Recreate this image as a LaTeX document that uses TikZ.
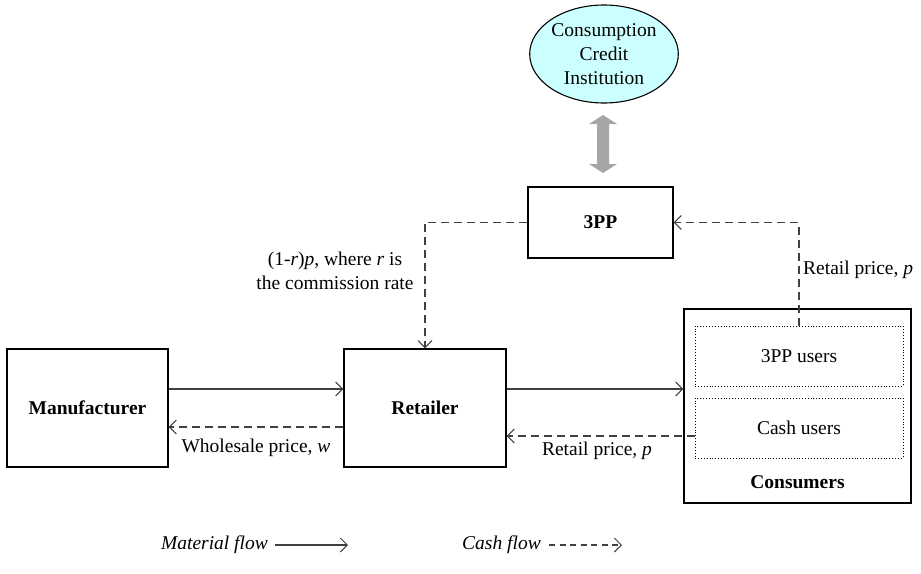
\documentclass[tikz,border=0pt]{standalone}
\usepackage{fontspec}
\setmainfont{Liberation Serif}
\usetikzlibrary{arrows.meta,shapes.geometric,calc}
\definecolor{linegray}{HTML}{404040}
\definecolor{ellfill}{HTML}{CCFFFF}
\definecolor{dblgray}{HTML}{A6A6A6}
\tikzset{
  box/.style={draw=black,line width=1.2pt,rectangle,inner sep=0pt,align=center,font=\fontsize{19.5}{23}\selectfont\bfseries},
  subbox/.style={draw=black,line width=0.9pt,dotted,rectangle,inner sep=0pt,align=center,font=\fontsize{19.5}{23}\selectfont},
  txt/.style={inner sep=0pt,align=center,font=\fontsize{19.5}{24}\selectfont},
  mat/.style={draw=linegray,line width=1.3pt,-{Straight Barb[length=7pt,width=14pt,line width=1pt]}},
  cash/.style={draw=linegray,line width=1.3pt,dash pattern=on 8pt off 5pt,-{Straight Barb[length=7pt,width=14pt,line width=1pt]}},
}
\begin{document}
\begin{tikzpicture}[x=1pt,y=-1pt]
\useasboundingbox (0,0) rectangle (921,573);
% ellipse
\node[ellipse,draw=black,line width=1.1pt,fill=ellfill,minimum width=145pt,minimum height=98pt,inner sep=0pt,txt] (cci) at (604,54) {Consumption\\Credit\\Institution};
% double arrow
\fill[dblgray] (603,115) -- (617,124) -- (609,124) -- (609,164) -- (617,164) -- (603,173) -- (589,164) -- (597,164) -- (597,124) -- (589,124) -- cycle;
% boxes
\node[box,minimum width=145pt,minimum height=71pt] (tpp) at (600.5,222.5) {3PP};
\node[box,minimum width=161pt,minimum height=118pt] (man) at (87.5,408) {Manufacturer};
\node[box,minimum width=162pt,minimum height=118pt] (ret) at (425,408) {Retailer};
\node[draw=black,line width=1.2pt,rectangle,minimum width=227pt,minimum height=194pt,inner sep=0pt] (con) at (797.5,406) {};
\node[txt,font=\fontsize{19.5}{23}\selectfont\bfseries] (conlab) at (797.5,482) {Consumers};
\node[subbox,minimum width=208pt,minimum height=60pt] (tppu) at (799,356) {3PP users};
\node[subbox,minimum width=208pt,minimum height=60pt] (cashu) at (799,428) {Cash users};
% connectors
\draw[mat] ([yshift=19pt]man.east) -- ([yshift=19pt]ret.west);
\draw[cash] ([yshift=-19pt]ret.west) -- ([yshift=-19pt]man.east);
\draw[mat] ([yshift=19pt]ret.east) -- ([yshift=19pt]ret.east -| con.west);
\draw[cash] ([yshift=-8pt]cashu.west) -- ([yshift=-8pt]cashu.west -| ret.east);
\draw[cash] (tpp.west) -| (ret.north);
\draw[cash] (tppu.north) |- (tpp.east);
% labels
\node[txt] (l1) at (335,271) {(1-\textit{r})\textit{p}, where \textit{r} is\\the commission rate};
\node[txt,anchor=west] (l2) at (803,270) {Retail price, \textit{p}};
\node[txt] (l3) at (256,448) {Wholesale price, \textit{w}};
\node[txt] (l4) at (597,451) {Retail price, \textit{p}};
% legend
\node[txt,anchor=east] (lm) at (268,545) {\textit{Material flow}};
\coordinate (lm1) at (275,545);
\coordinate (lm2) at (348,545);
\draw[mat] (lm1) -- (lm2);
\node[txt,anchor=east] (lc) at (541,545) {\textit{Cash flow}};
\coordinate (lc1) at (549,545);
\coordinate (lc2) at (622,545);
\draw[cash,dash pattern=on 6pt off 4.5pt] (lc1) -- (lc2);
\end{tikzpicture}
\end{document}
